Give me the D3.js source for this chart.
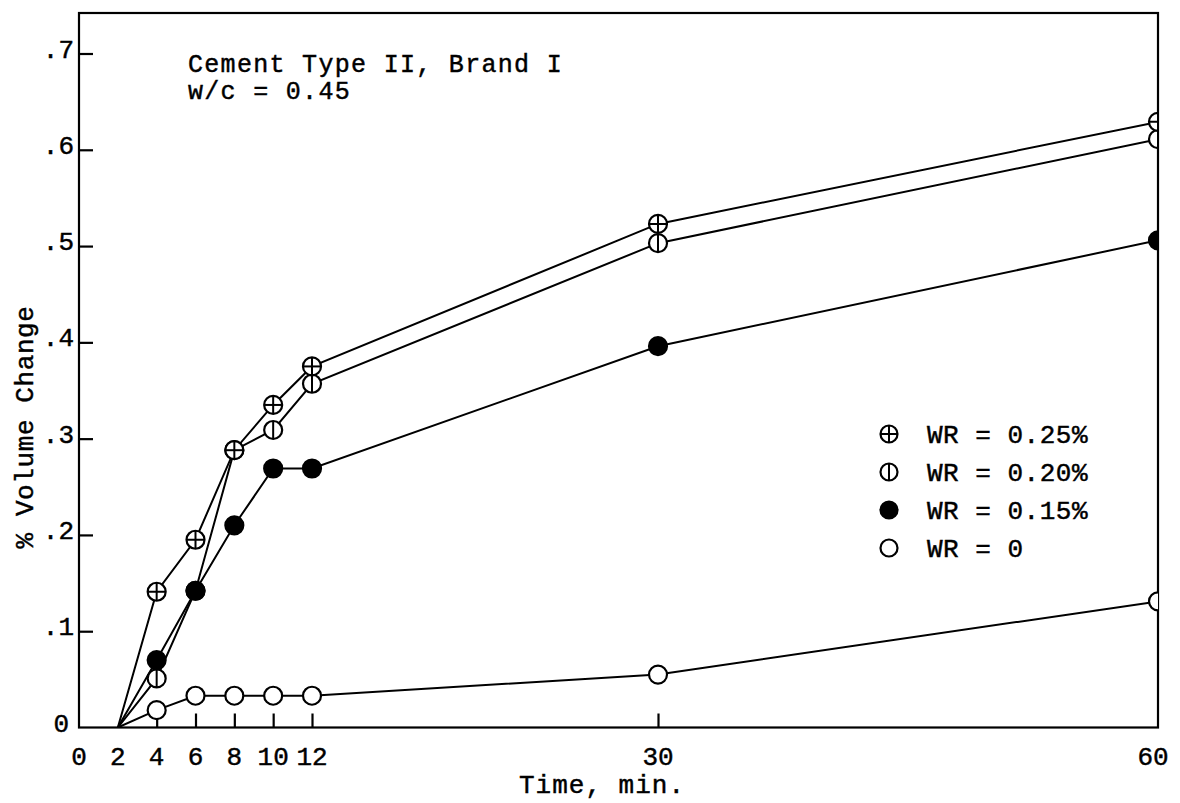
<!DOCTYPE html>
<html>
<head>
<meta charset="utf-8">
<script src="https://cdn.jsdelivr.net/npm/d3@7"></script>
<style>
  html, body { margin: 0; padding: 0; background: #fff; }
  svg { display: block; }
  text { font-family: "Liberation Mono", "Courier New", monospace; fill: #000; }
</style>
</head>
<body>
<svg id="chart" width="1180" height="803"></svg>
<script>
// ---- data ----
const times  = [2, 4, 6, 8, 10, 12, 30, 60];
const wr025  = [0, 0.141, 0.195, 0.288, 0.335, 0.375, 0.523, 0.629];
const wr020  = [0, 0.051, 0.142, 0.288, 0.309, 0.357, 0.503, 0.611];
const wr015  = [0, 0.070, 0.142, 0.210, 0.269, 0.269, 0.396, 0.506];
const wr000  = [0, 0.018, 0.033, 0.033, 0.033, 0.033, 0.055, 0.131];

const seriesNames  = ["WR = 0.25%", "WR = 0.20%", "WR = 0.15%", "WR = 0"];
const seriesMarks  = ["plus", "bar", "filled", "open"];
const xTickValues  = [4, 6, 8, 10, 12, 30];
const xLabelValues = [0, 2, 4, 6, 8, 10, 12, 30, 60];
const yTickValues  = [0.1, 0.2, 0.3, 0.4, 0.5, 0.6, 0.7];
const yLabelValues = [0, 0.1, 0.2, 0.3, 0.4, 0.5, 0.6, 0.7];
const noteLines    = ["Cement Type II, Brand I", "w/c = 0.45"];
const xTitle = "Time, min.";
const yTitle = "% Volume Change";

// ---- layout ----
const pLeft = 79, pRight = 1158, pTop = 13, pBottom = 727.5;
const svg = d3.select("#chart");

// piecewise x scale (the original axis is not uniform)
const x = d3.scaleLinear().domain([0, 12, 30, 60]).range([pLeft, 312, 658, pRight]);
const y = d3.scaleLinear().domain([0, 0.7]).range([pBottom, 53.5]);

const FS = 26;
const textStyle = (sel, fs = FS, ls = 0.6) => sel.attr("font-size", fs)
  .attr("letter-spacing", ls)
  .attr("stroke", "#000").attr("stroke-width", 0.45);

// frame
svg.append("rect")
  .attr("x", pLeft).attr("y", pTop)
  .attr("width", pRight - pLeft).attr("height", pBottom - pTop)
  .attr("fill", "none").attr("stroke", "#000").attr("stroke-width", 2.2);

// y axis ticks (inward) + labels
const yAxis = d3.axisLeft(y).tickValues(yTickValues).tickSize(-14).tickFormat("");
const gy = svg.append("g").attr("transform", `translate(${pLeft},0)`).call(yAxis);
gy.select(".domain").remove();
gy.selectAll(".tick line").attr("stroke", "#000").attr("stroke-width", 2.2);

const yFmt = d => d === 0 ? "0" : "." + Math.round(d * 10);
svg.append("g").selectAll("text").data(yLabelValues).join("text")
  .attr("x", d => d === 0 ? 69 : 74)
  .attr("y", d => y(d) + 4)
  .attr("text-anchor", "end")
  .call(textStyle, FS, 0)
  .text(yFmt);

// x axis ticks (inward)
const xAxis = d3.axisBottom(x).tickValues(xTickValues).tickSize(-14).tickFormat("");
const gx = svg.append("g").attr("transform", `translate(0,${pBottom})`).call(xAxis);
gx.select(".domain").remove();
gx.selectAll(".tick line").attr("stroke", "#000").attr("stroke-width", 2.2);

svg.append("g").selectAll("text").data(xLabelValues).join("text")
  .attr("x", d => d === 60 ? x(d) - 5 : x(d))
  .attr("y", 765)
  .attr("text-anchor", "middle")
  .call(textStyle, FS, 0)
  .text(d => d);

// axis titles
svg.append("text").attr("x", 602).attr("y", 793).attr("text-anchor", "middle")
  .call(textStyle, FS, 1).text(xTitle);
svg.append("text").attr("transform", "translate(33,427) rotate(-90)")
  .attr("text-anchor", "middle").call(textStyle, FS, 0.6).text(yTitle);

// note
svg.append("g").selectAll("text").data(noteLines).join("text")
  .attr("x", 188).attr("y", (d, i) => 72 + i * 27)
  .call(textStyle, 25, 1.3).text(d => d);

// clip for markers at the frame
svg.append("defs").append("clipPath").attr("id", "plotclip")
  .append("rect").attr("x", pLeft).attr("y", pTop)
  .attr("width", pRight - pLeft).attr("height", pBottom - pTop);

const allSeries = [wr025, wr020, wr015, wr000];
const line = d3.line().x((d, i) => x(times[i])).y(d => y(d));

const plot = svg.append("g").attr("clip-path", "url(#plotclip)");
plot.selectAll("path.series").data(allSeries).join("path")
  .attr("class", "series")
  .attr("d", line)
  .attr("fill", "none").attr("stroke", "#000").attr("stroke-width", 2);

function drawMarker(g, type, cx, cy, r) {
  g.append("circle").attr("cx", cx).attr("cy", cy).attr("r", r)
    .attr("stroke", "#000").attr("stroke-width", 2.2)
    .attr("fill", type === "filled" ? "#000" : "#fff");
  if (type === "plus") {
    g.append("line").attr("x1", cx - r).attr("x2", cx + r).attr("y1", cy).attr("y2", cy)
      .attr("stroke", "#000").attr("stroke-width", 2);
  }
  if (type === "plus" || type === "bar") {
    g.append("line").attr("x1", cx).attr("x2", cx).attr("y1", cy - r).attr("y2", cy + r)
      .attr("stroke", "#000").attr("stroke-width", 2);
  }
}

// draw order: open, bar, plus, filled
const order = [3, 1, 0, 2];
order.forEach(si => {
  const g = plot.append("g");
  allSeries[si].forEach((v, i) => {
    if (i === 0) return; // lines start at origin (t = 2) without a marker
    drawMarker(g, seriesMarks[si], x(times[i]), y(v), 9);
  });
});

// legend
const legendY = [434, 472, 510, 548];
const lg = svg.append("g");
seriesNames.forEach((name, i) => {
  drawMarker(lg, seriesMarks[i], 889, legendY[i], 8.5);
  lg.append("text").attr("x", 927).attr("y", legendY[i] + 9)
    .call(textStyle, FS, 0.5).text(name);
});
</script>
</body>
</html>
